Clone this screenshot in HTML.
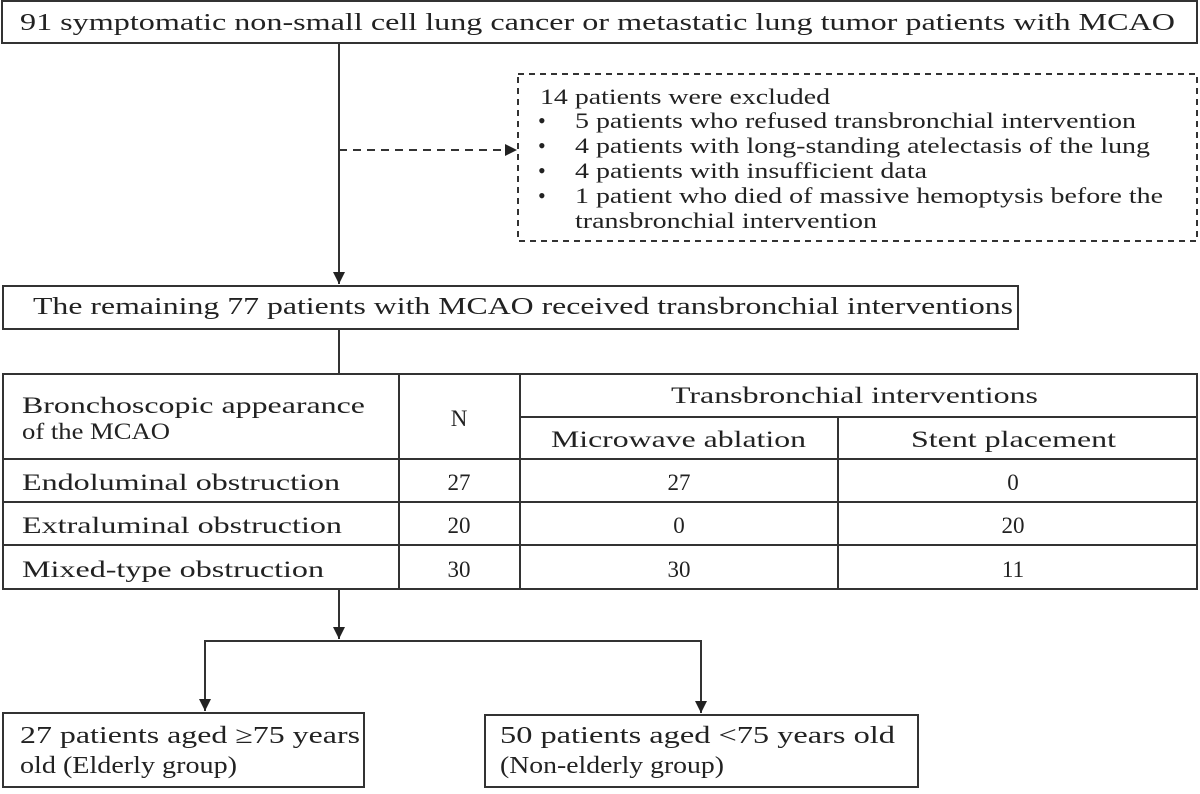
<!DOCTYPE html>
<html><head><meta charset="utf-8"><style>
body{margin:0;background:#fff;width:1200px;height:789px;overflow:hidden}
svg text{font-family:"Liberation Serif",serif;fill:#222}
</style></head><body>
<svg width="1200" height="789" viewBox="0 0 1200 789">
<defs><marker id="ah" viewBox="0 0 10 10" refX="10" refY="5" markerWidth="12" markerHeight="12" markerUnits="userSpaceOnUse" orient="auto"><path d="M0,0L10,5L0,10z" fill="#222"/></marker></defs>
<g stroke="#333" stroke-width="2" fill="none">
<rect x="2" y="1" width="1195" height="42"/>
<line x1="339" y1="43" x2="339" y2="284" marker-end="url(#ah)"/>
<line x1="339" y1="150" x2="517" y2="150" stroke-dasharray="8,6" marker-end="url(#ah)"/>
<rect x="518" y="74" width="679" height="167" stroke-dasharray="6,5"/>
<rect x="3" y="286" width="1015" height="43"/>
<line x1="339" y1="329" x2="339" y2="374"/>
<rect x="3" y="374" width="1194" height="215"/>
<line x1="399" y1="374" x2="399" y2="589"/><line x1="520" y1="374" x2="520" y2="589"/><line x1="838" y1="417" x2="838" y2="589"/>
<line x1="520" y1="417" x2="1197" y2="417"/>
<line x1="3" y1="459" x2="1197" y2="459"/><line x1="3" y1="502" x2="1197" y2="502"/><line x1="3" y1="545" x2="1197" y2="545"/>
<line x1="339" y1="589" x2="339" y2="639" marker-end="url(#ah)"/>
<polyline points="205,711 205,641 701,641 701,713" marker-end="url(#ah)"/>
<line x1="205" y1="641" x2="205" y2="711" marker-end="url(#ah)"/>
<rect x="3" y="713" width="361" height="74"/>
<rect x="485" y="715" width="433" height="72"/>
</g>
<g font-size="24">
<text x="20" y="30" textLength="1155" lengthAdjust="spacingAndGlyphs">91 symptomatic non-small cell lung cancer or metastatic lung tumor patients with MCAO</text>
<g font-size="22">
<text x="540" y="104" textLength="290" lengthAdjust="spacingAndGlyphs">14 patients were excluded</text>
<text x="538" y="128">•</text><text x="575" y="128" textLength="561" lengthAdjust="spacingAndGlyphs">5 patients who refused transbronchial intervention</text>
<text x="538" y="153">•</text><text x="575" y="153" textLength="575" lengthAdjust="spacingAndGlyphs">4 patients with long-standing atelectasis of the lung</text>
<text x="538" y="178">•</text><text x="575" y="178" textLength="352" lengthAdjust="spacingAndGlyphs">4 patients with insufficient data</text>
<text x="538" y="203">•</text><text x="575" y="203" textLength="588" lengthAdjust="spacingAndGlyphs">1 patient who died of massive hemoptysis before the</text>
<text x="575" y="228" textLength="302" lengthAdjust="spacingAndGlyphs">transbronchial intervention</text>
</g>
<text x="33" y="314" textLength="980" lengthAdjust="spacingAndGlyphs">The remaining 77 patients with MCAO received transbronchial interventions</text>
<g font-size="23">
<text x="22" y="413" textLength="343" lengthAdjust="spacingAndGlyphs">Bronchoscopic appearance</text><text x="22" y="439" textLength="148" lengthAdjust="spacingAndGlyphs">of the MCAO</text>
<text x="459" y="426" text-anchor="middle">N</text>
<text x="671" y="403" textLength="367" lengthAdjust="spacingAndGlyphs">Transbronchial interventions</text>
<text x="551" y="447" textLength="255" lengthAdjust="spacingAndGlyphs">Microwave ablation</text>
<text x="911" y="447" textLength="205" lengthAdjust="spacingAndGlyphs">Stent placement</text>
<text x="22" y="490" textLength="318" lengthAdjust="spacingAndGlyphs">Endoluminal obstruction</text><text x="459" y="490" text-anchor="middle">27</text><text x="679" y="490" text-anchor="middle">27</text><text x="1013" y="490" text-anchor="middle">0</text>
<text x="22" y="533" textLength="320" lengthAdjust="spacingAndGlyphs">Extraluminal obstruction</text><text x="459" y="533" text-anchor="middle">20</text><text x="679" y="533" text-anchor="middle">0</text><text x="1013" y="533" text-anchor="middle">20</text>
<text x="22" y="577" textLength="302" lengthAdjust="spacingAndGlyphs">Mixed-type obstruction</text><text x="459" y="577" text-anchor="middle">30</text><text x="679" y="577" text-anchor="middle">30</text><text x="1013" y="577" text-anchor="middle">11</text>
</g>
<text x="20" y="743" textLength="340" lengthAdjust="spacingAndGlyphs">27 patients aged ≥75 years</text><text x="20" y="773" textLength="217" lengthAdjust="spacingAndGlyphs">old (Elderly group)</text>
<text x="500" y="743" textLength="395" lengthAdjust="spacingAndGlyphs">50 patients aged &lt;75 years old</text><text x="500" y="773" textLength="224" lengthAdjust="spacingAndGlyphs">(Non-elderly group)</text>
</g>
</svg>
</body></html>
